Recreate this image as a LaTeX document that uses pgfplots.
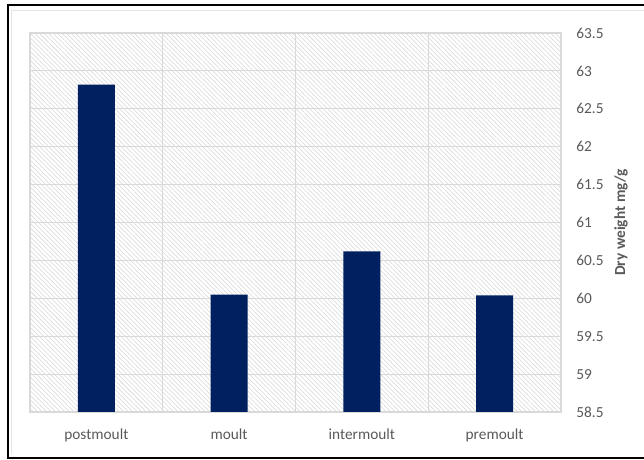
\documentclass[border=0pt]{standalone}
\usepackage{pgfplots}
\pgfplotsset{compat=1.18}
\usepackage{fontspec}
\setmainfont{Carlito}
\usetikzlibrary{patterns.meta}
\definecolor{barblue}{HTML}{002060}
\definecolor{gridgray}{HTML}{D9D9D9}
\definecolor{hatchgray}{HTML}{D6D6D6}
\definecolor{txtgray}{HTML}{595959}

\begin{document}
\begin{tikzpicture}[x=0.75pt,y=0.75pt]
  % page extent
  \path[use as bounding box] (0,0) rectangle (644,460);
  % outer frame
  \draw[black, line width=1.6pt] (644,455) -- (8,455) -- (8,2) -- (644,2);
  \draw[gridgray!70, line width=0.6pt] (644,450) -- (11,450) -- (11,6);

  \begin{axis}[
    at={(22.5pt,36pt)}, anchor=south west,
    scale only axis,
    width=398.25pt, height=284.25pt,
    ymin=58.5, ymax=63.5,
    ytick={58.5,59,...,63.5},
    xmin=-0.5, xmax=3.5,
    xtick={0,1,2,3},
    xticklabels={postmoult,moult,intermoult,premoult},
    minor xtick={-0.5,0.5,1.5,2.5,3.5},
    xminorgrids, ymajorgrids,
    grid style={gridgray, line width=0.8pt},
    minor grid style={gridgray, line width=0.8pt},
    axis line style={gridgray, line width=0.8pt},
    major tick length=0pt, minor tick length=0pt,
    yticklabel pos=right,
    yticklabel style={anchor=west, xshift=8pt},
    xticklabel style={yshift=-9pt},
    ticklabel style={font=\fontsize{11.5}{13}\selectfont, text=txtgray},
    /pgf/number format/assume math mode=true,
    /pgf/number format/.cd, fixed, precision=1, /pgfplots/.cd,
    ylabel={\textbf{Dry weight mg/g}},
    every axis y label/.style={at={(rel axis cs:1,0.5)}, rotate=90, anchor=center,
      yshift=-45pt, font=\fontsize{11.5}{13}\selectfont, text=txtgray},
    axis background/.style={fill=white, pattern={Lines[angle=-45, distance=2.4pt, line width=0.4pt]}, pattern color=hatchgray},
  ]
    \addplot[ybar, bar width=27.75pt, fill=barblue, draw=none]
      coordinates {(0,62.82) (1,60.05) (2,60.62) (3,60.04)};
  \end{axis}
\end{tikzpicture}
\end{document}
